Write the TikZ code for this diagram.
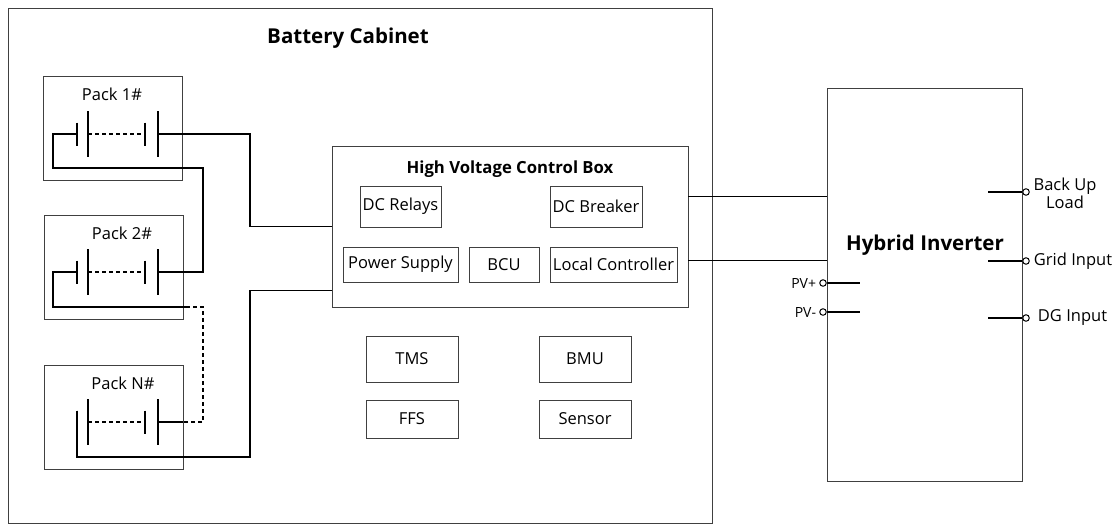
\documentclass[tikz,border=0pt]{standalone}
\usepackage{fontspec}
\setmainfont{Open Sans}
\usepackage{xcolor}
\usepackage{tikz}
\usetikzlibrary{calc,positioning}
\definecolor{edge}{HTML}{404040}
\tikzset{
  frameBox/.style={draw=edge, line width=0.9pt},
  partBox/.style={draw=edge, line width=0.8pt, inner sep=0pt, font=\fontsize{16.5}{18}\selectfont},
  partText/.style={font=\fontsize{16.5}{18}\selectfont, inner sep=0pt},
  titleText/.style={font=\fontsize{20.5}{22}\selectfont\bfseries, inner sep=0pt},
  portText/.style={font=\fontsize{14}{16}\selectfont, inner sep=0pt},
  wire/.style={line width=1.3pt, black},
  dashWire/.style={line width=1.3pt, black, dash pattern=on 4pt off 3pt},
  plate/.style={line width=1.3pt, black},
  port/.style={circle, draw=black, line width=1pt, minimum size=6.5pt, inner sep=0pt, fill=white},
  cellString/.pic={
    \draw[plate] (77,-11.5) -- (77,11.5);
    \draw[plate] (88,-23) -- (88,23);
    \draw[dashWire] (88,0) -- (145,0);
    \draw[plate] (145,-11.5) -- (145,11.5);
    \draw[plate] (158,-23) -- (158,23);
    \coordinate (-neg) at (77,0);
    \coordinate (-pos) at (158,0);
  }
}

\begin{document}
\begin{tikzpicture}[x=1pt, y=-1pt]
  \useasboundingbox (0,0) rectangle (1115,527);

  % cabinet
  \draw[frameBox] (8,8) rectangle (712,523);
  \node[titleText] (cabTitle) at (348,38) {Battery Cabinet};

  % packs
  \node[frameBox, minimum width=139pt, minimum height=104pt] (pack1) at (112.5,128) {};
  \node[frameBox, minimum width=139pt, minimum height=104pt] (pack2) at (113.5,267) {};
  \node[frameBox, minimum width=139pt, minimum height=104pt] (packN) at (113.5,417) {};
  \node[partText] at (112,94) {Pack 1\#};
  \node[partText] at (122,233) {Pack 2\#};
  \node[partText] at (123,383) {Pack N\#};

  \pic (p1) at (0,134) {cellString};
  \pic (p2) at (0,272) {cellString};
  \pic (pN) at (0,422) {cellString};

  % high voltage control box
  \node[frameBox, minimum width=356pt, minimum height=161pt] (hv) at (510,226.5) {};
  \node[font=\fontsize{16.7}{18}\selectfont\bfseries, inner sep=0pt] (hvTitle) at (510,169) {High Voltage Control Box};
  \node[partBox, minimum width=81pt, minimum height=41pt] (relays) at (400.5,206.5) {DC Relays};
  \node[partBox, minimum width=92pt, minimum height=41pt] (breaker) at (596,206.5) {DC Breaker};
  \node[partBox, minimum width=115pt, minimum height=35pt] (supply) at (400.5,264.5) {Power Supply};
  \node[partBox, minimum width=70pt, minimum height=35pt] (bcu) at (504,264.5) {BCU};
  \node[partBox, minimum width=127pt, minimum height=35pt] (local) at (613.5,264.5) {Local Controller};

  % other cabinet parts
  \node[partBox, minimum width=92pt, minimum height=46pt] (tms) at (412,359) {TMS};
  \node[partBox, minimum width=92pt, minimum height=46pt] (bmu) at (585,359) {BMU};
  \node[partBox, minimum width=92pt, minimum height=38pt] (ffs) at (412,419) {FFS};
  \node[partBox, minimum width=92pt, minimum height=38pt] (sensor) at (585,419) {Sensor};

  % string wiring
  \draw[wire] (p1-pos) -- (250,134) |- (hv.west);
  \draw[wire] (p1-neg) -| (53,168) -- (203,168) |- (p2-pos);
  \coordinate (dashA) at (186,307);
  \coordinate (dashB) at (183,422);
  \draw[wire] (p2-neg) -| (53,307) -- (dashA);
  \draw[dashWire] (dashA) -| (203,422) -- (dashB);
  \draw[wire] (dashB) -- (pN-pos);
  \draw[wire] (pN-neg) ++(0,-11.5) -- (77,457) -- (250,457) |- ([yshift=17pt]hv.south west);

  % inverter
  \node[frameBox, minimum width=195pt, minimum height=393pt] (inv) at (924.5,284.5) {};
  \node[titleText] (invTitle) at (925,245) {Hybrid Inverter};

  \coordinate (hvOutA) at ([yshift=-51pt]hv.north east);
  \coordinate (hvOutB) at ([yshift=-115pt]hv.north east);
  \draw[wire] (hvOutA) -- (hvOutA -| inv.west);
  \draw[wire] (hvOutB) -- (hvOutB -| inv.west);

  % ports
  \node[port] (pvPlus) at (823,283) {};
  \node[port] (pvMinus) at (823,312) {};
  \draw[wire] (pvPlus) -- (860,283);
  \draw[wire] (pvMinus) -- (860,312);
  \node[portText, left=3pt of pvPlus] {PV+};
  \node[portText, left=3pt of pvMinus] {PV-};

  \node[port] (backup) at (1026,192) {};
  \node[port] (grid) at (1026,261) {};
  \node[port] (dg) at (1026,318) {};
  \draw[wire] (988,192) -- (backup);
  \draw[wire] (988,261) -- (grid);
  \draw[wire] (988,318) -- (dg);
  \node[partText, align=center] at (1065,193) {Back Up\\Load};
  \node[partText, right=4pt of grid] {Grid Input};
  \node[partText, right=8pt of dg] {DG Input};
\end{tikzpicture}
\end{document}
